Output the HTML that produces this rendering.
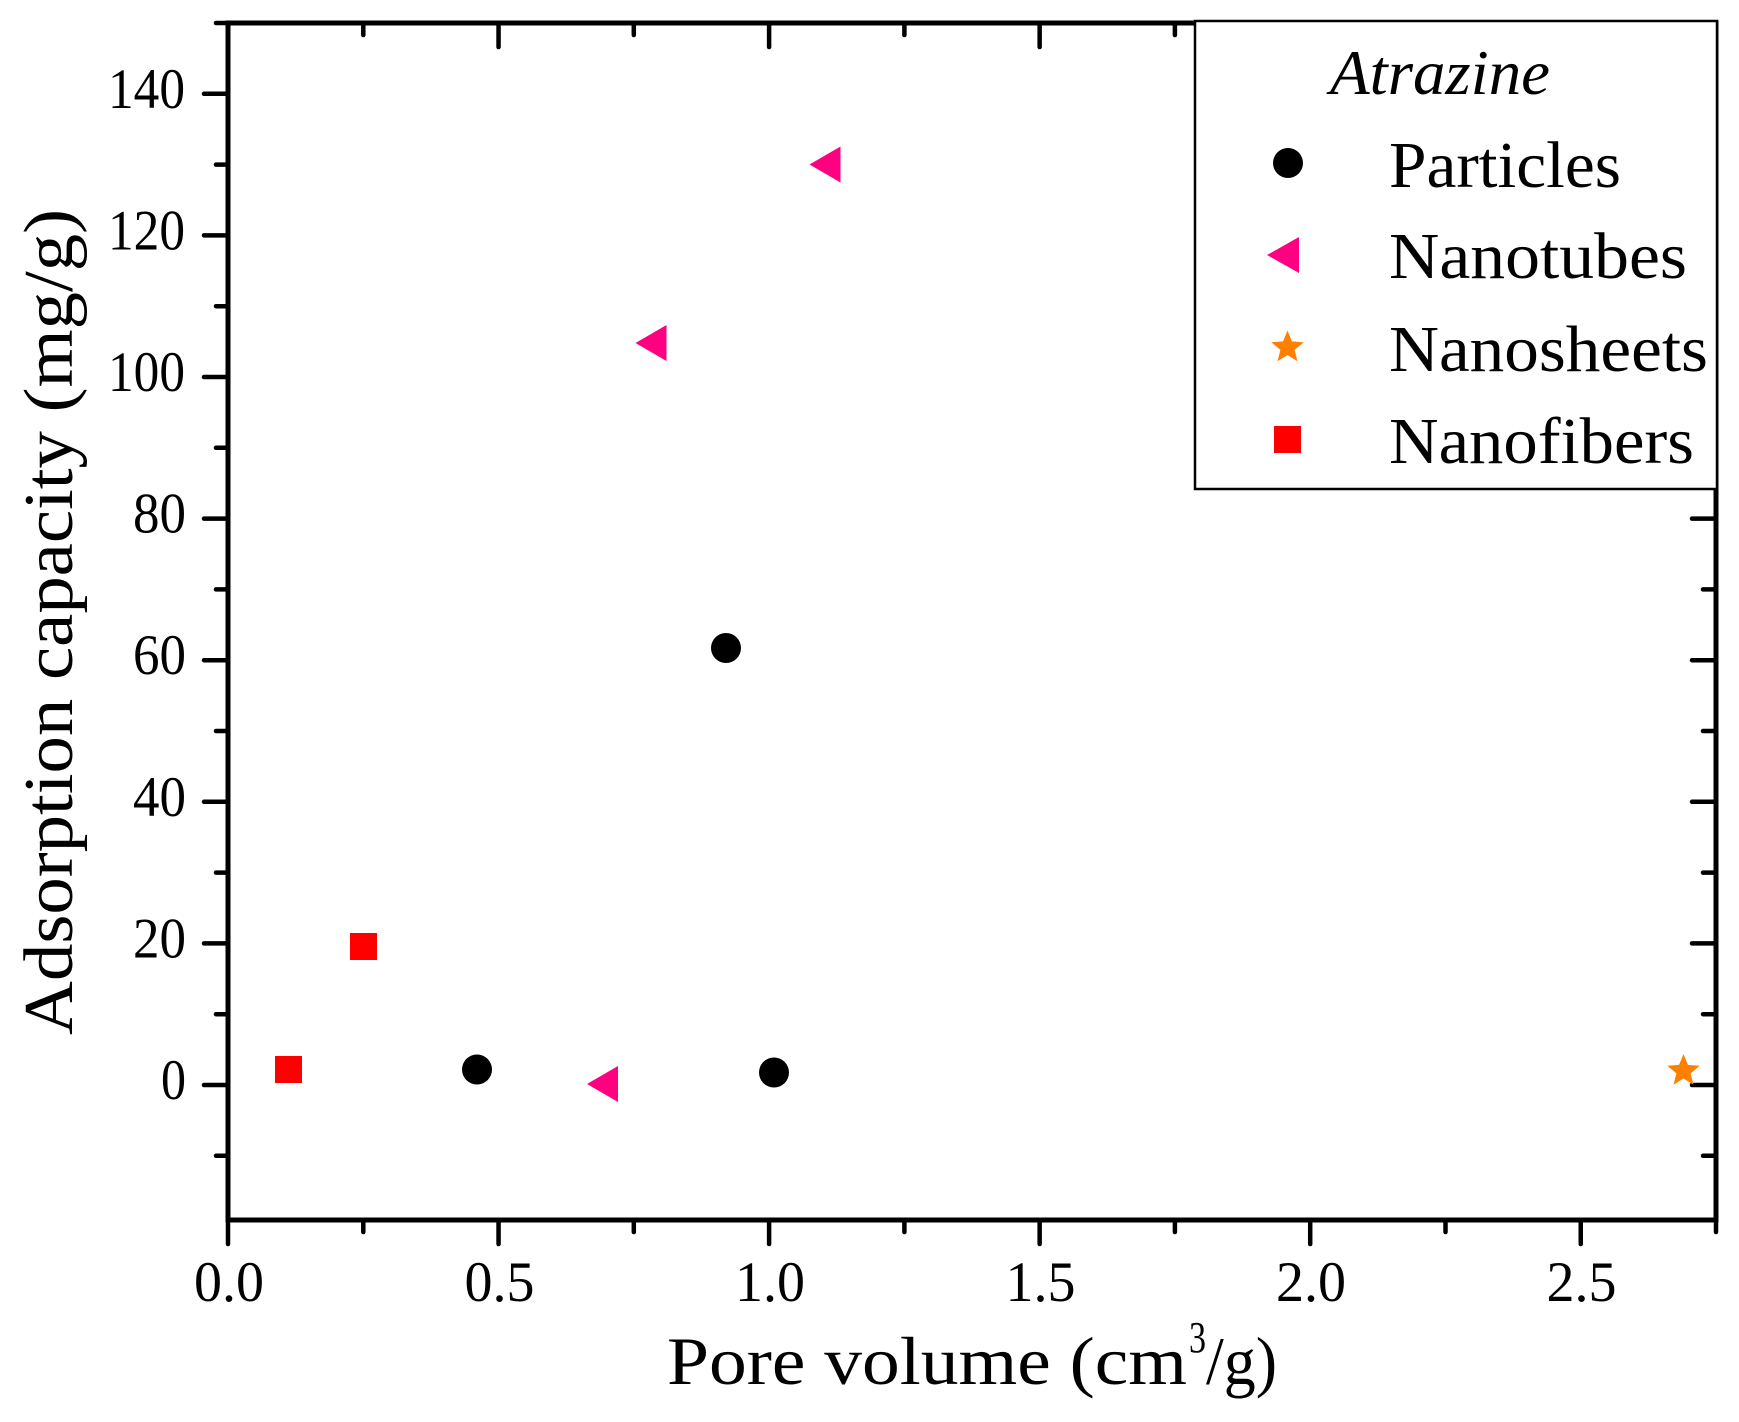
<!DOCTYPE html>
<html>
<head>
<meta charset="utf-8">
<style>
  html, body { margin: 0; padding: 0; background: #ffffff; }
  svg { display: block; }
  text { font-family: "Liberation Serif", serif; fill: #000; }
</style>
</head>
<body>
<svg width="1739" height="1422" viewBox="0 0 1739 1422" xmlns="http://www.w3.org/2000/svg">
  <defs>
    <polygon id="star" points="0,-17 4.41,-6.07 16.17,-5.25 7.13,2.32 9.99,13.75 0,7.5 -9.99,13.75 -7.13,2.32 -16.17,-5.25 -4.41,-6.07"/>
  </defs>
  <rect x="0" y="0" width="1739" height="1422" fill="#ffffff"/>

  <!-- axes frame -->
  <g stroke="#000" stroke-width="5" fill="none">
    <line x1="228" y1="23" x2="1716" y2="23"/>
    <line x1="228" y1="1220" x2="1716" y2="1220"/>
    <line x1="228" y1="20.5" x2="228" y2="1222.5"/>
    <line x1="1716" y1="20.5" x2="1716" y2="1222.5"/>
  </g>

  <!-- ticks -->
  <g stroke="#000" stroke-width="4.5" stroke-linecap="round">
    <!-- left majors -->
    <line x1="204" y1="1085" x2="228" y2="1085"/>
    <line x1="204" y1="943.4" x2="228" y2="943.4"/>
    <line x1="204" y1="801.8" x2="228" y2="801.8"/>
    <line x1="204" y1="660.2" x2="228" y2="660.2"/>
    <line x1="204" y1="518.6" x2="228" y2="518.6"/>
    <line x1="204" y1="377" x2="228" y2="377"/>
    <line x1="204" y1="235.4" x2="228" y2="235.4"/>
    <line x1="204" y1="93.8" x2="228" y2="93.8"/>
    <!-- left minors -->
    <line x1="216" y1="1155.8" x2="228" y2="1155.8"/>
    <line x1="216" y1="1014.2" x2="228" y2="1014.2"/>
    <line x1="216" y1="872.6" x2="228" y2="872.6"/>
    <line x1="216" y1="731" x2="228" y2="731"/>
    <line x1="216" y1="589.4" x2="228" y2="589.4"/>
    <line x1="216" y1="447.8" x2="228" y2="447.8"/>
    <line x1="216" y1="306.2" x2="228" y2="306.2"/>
    <line x1="216" y1="164.6" x2="228" y2="164.6"/>
    <line x1="216" y1="23" x2="228" y2="23"/>
    <!-- right majors (inward) -->
    <line x1="1692" y1="1085" x2="1716" y2="1085"/>
    <line x1="1692" y1="943.4" x2="1716" y2="943.4"/>
    <line x1="1692" y1="801.8" x2="1716" y2="801.8"/>
    <line x1="1692" y1="660.2" x2="1716" y2="660.2"/>
    <line x1="1692" y1="518.6" x2="1716" y2="518.6"/>
    <line x1="1692" y1="377" x2="1716" y2="377"/>
    <line x1="1692" y1="235.4" x2="1716" y2="235.4"/>
    <line x1="1692" y1="93.8" x2="1716" y2="93.8"/>
    <!-- right minors -->
    <line x1="1703" y1="1155.8" x2="1716" y2="1155.8"/>
    <line x1="1703" y1="1014.2" x2="1716" y2="1014.2"/>
    <line x1="1703" y1="872.6" x2="1716" y2="872.6"/>
    <line x1="1703" y1="731" x2="1716" y2="731"/>
    <line x1="1703" y1="589.4" x2="1716" y2="589.4"/>
    <line x1="1703" y1="447.8" x2="1716" y2="447.8"/>
    <line x1="1703" y1="306.2" x2="1716" y2="306.2"/>
    <line x1="1703" y1="164.6" x2="1716" y2="164.6"/>
    <!-- bottom majors -->
    <line x1="228" y1="1220" x2="228" y2="1244"/>
    <line x1="498.55" y1="1220" x2="498.55" y2="1244"/>
    <line x1="769.1" y1="1220" x2="769.1" y2="1244"/>
    <line x1="1039.65" y1="1220" x2="1039.65" y2="1244"/>
    <line x1="1310.2" y1="1220" x2="1310.2" y2="1244"/>
    <line x1="1580.75" y1="1220" x2="1580.75" y2="1244"/>
    <!-- bottom minors -->
    <line x1="363.3" y1="1220" x2="363.3" y2="1232"/>
    <line x1="633.8" y1="1220" x2="633.8" y2="1232"/>
    <line x1="904.4" y1="1220" x2="904.4" y2="1232"/>
    <line x1="1174.9" y1="1220" x2="1174.9" y2="1232"/>
    <line x1="1445.5" y1="1220" x2="1445.5" y2="1232"/>
    <line x1="1716" y1="1220" x2="1716" y2="1232"/>
    <!-- top majors (inward) -->
    <line x1="498.55" y1="23" x2="498.55" y2="47"/>
    <line x1="769.1" y1="23" x2="769.1" y2="47"/>
    <line x1="1039.65" y1="23" x2="1039.65" y2="47"/>
    <line x1="1310.2" y1="23" x2="1310.2" y2="47"/>
    <line x1="1580.75" y1="23" x2="1580.75" y2="47"/>
    <!-- top minors -->
    <line x1="363.3" y1="23" x2="363.3" y2="35"/>
    <line x1="633.8" y1="23" x2="633.8" y2="35"/>
    <line x1="904.4" y1="23" x2="904.4" y2="35"/>
    <line x1="1174.9" y1="23" x2="1174.9" y2="35"/>
    <line x1="1445.5" y1="23" x2="1445.5" y2="35"/>
  </g>

  <!-- y tick labels -->
  <g font-size="57" text-anchor="end">
    <text x="186" y="1099" textLength="25" lengthAdjust="spacingAndGlyphs">0</text>
    <text x="186" y="957.4" textLength="53" lengthAdjust="spacingAndGlyphs">20</text>
    <text x="186" y="815.8" textLength="53" lengthAdjust="spacingAndGlyphs">40</text>
    <text x="186" y="674.2" textLength="53" lengthAdjust="spacingAndGlyphs">60</text>
    <text x="186" y="532.6" textLength="53" lengthAdjust="spacingAndGlyphs">80</text>
    <text x="185" y="391" textLength="77" lengthAdjust="spacingAndGlyphs">100</text>
    <text x="185" y="249.4" textLength="77" lengthAdjust="spacingAndGlyphs">120</text>
    <text x="185" y="107.8" textLength="77" lengthAdjust="spacingAndGlyphs">140</text>
  </g>

  <!-- x tick labels -->
  <g font-size="57" text-anchor="middle">
    <text x="229" y="1301" textLength="70" lengthAdjust="spacingAndGlyphs">0.0</text>
    <text x="499.5" y="1301" textLength="70" lengthAdjust="spacingAndGlyphs">0.5</text>
    <text x="770" y="1301" textLength="70" lengthAdjust="spacingAndGlyphs">1.0</text>
    <text x="1040.5" y="1301" textLength="70" lengthAdjust="spacingAndGlyphs">1.5</text>
    <text x="1311" y="1301" textLength="70" lengthAdjust="spacingAndGlyphs">2.0</text>
    <text x="1581.5" y="1301" textLength="70" lengthAdjust="spacingAndGlyphs">2.5</text>
  </g>

  <!-- axis titles -->
  <text x="667" y="1384" font-size="68" textLength="520" lengthAdjust="spacingAndGlyphs">Pore volume (cm</text>
  <text x="1189" y="1352" font-size="44" textLength="17" lengthAdjust="spacingAndGlyphs">3</text>
  <text x="1206" y="1384" font-size="68" textLength="71" lengthAdjust="spacingAndGlyphs">/g)</text>

  <text transform="translate(72,1035) rotate(-90)" x="0" y="0" font-size="70" textLength="826" lengthAdjust="spacingAndGlyphs">Adsorption capacity (mg/g)</text>

  <!-- data: Nanofibers (red squares) -->
  <g fill="#FF0000">
    <rect x="275" y="1056" width="27" height="27"/>
    <rect x="350" y="933" width="27" height="27"/>
  </g>
  <!-- data: Particles (black circles) -->
  <g fill="#000000">
    <circle cx="477" cy="1069.5" r="15"/>
    <circle cx="726" cy="648" r="15"/>
    <circle cx="774" cy="1072.5" r="15"/>
  </g>
  <!-- data: Nanotubes (pink left triangles) -->
  <g fill="#FF0080">
    <polygon points="587,1084 618,1066 618,1102"/>
    <polygon points="635.5,343 666.5,325 666.5,361"/>
    <polygon points="809.5,164.5 840.5,146.5 840.5,182.5"/>
  </g>
  <!-- data: Nanosheets (orange star) -->
  <use href="#star" transform="translate(1683.5,1071)" fill="#FF8000"/>

  <!-- legend -->
  <rect x="1195" y="21" width="522" height="468" fill="#ffffff" stroke="#000" stroke-width="2.5"/>
  <text x="1330" y="94" font-size="64" font-style="italic" textLength="220" lengthAdjust="spacingAndGlyphs">Atrazine</text>

  <circle cx="1288" cy="163" r="15" fill="#000"/>
  <text x="1389" y="187" font-size="66" textLength="232" lengthAdjust="spacingAndGlyphs">Particles</text>

  <polygon points="1267,255 1299,237 1299,273" fill="#FF0080"/>
  <text x="1389" y="278" font-size="66" textLength="298" lengthAdjust="spacingAndGlyphs">Nanotubes</text>

  <use href="#star" transform="translate(1287.5,347.5)" fill="#FF8000"/>
  <text x="1389" y="371" font-size="66" textLength="319" lengthAdjust="spacingAndGlyphs">Nanosheets</text>

  <rect x="1274" y="426" width="27" height="27" fill="#FF0000"/>
  <text x="1389" y="463" font-size="66" textLength="305" lengthAdjust="spacingAndGlyphs">Nanofibers</text>
</svg>
</body>
</html>
